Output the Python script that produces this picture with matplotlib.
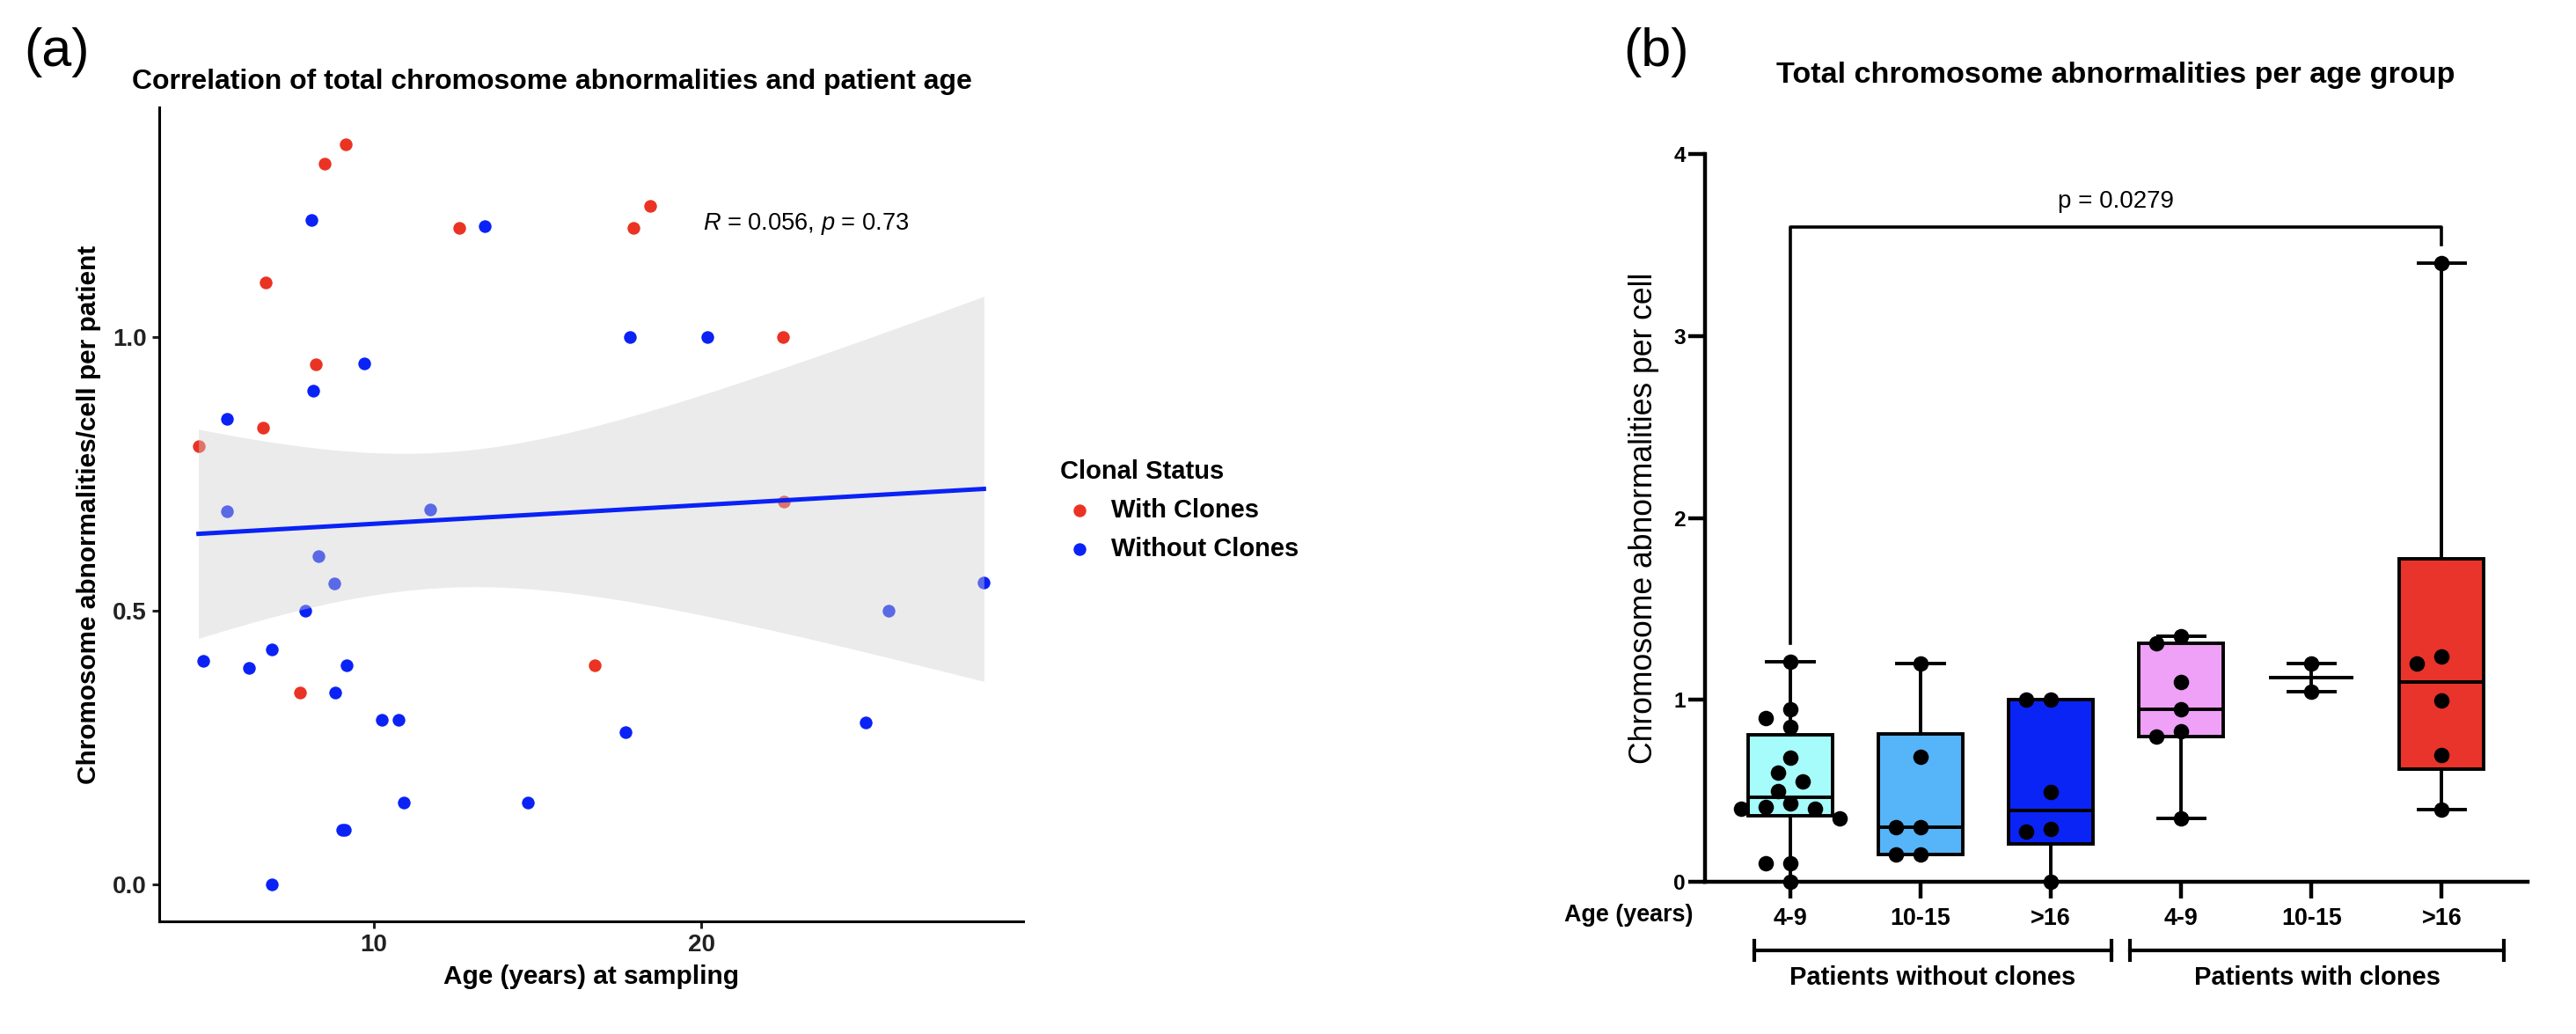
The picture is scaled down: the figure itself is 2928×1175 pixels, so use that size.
import numpy as np
import matplotlib
matplotlib.use('Agg')
from matplotlib import pyplot as plt

# ---- data: panel (a) scatter ----
age_with = [4.64, 6.62, 6.70, 7.75, 8.22, 8.48, 9.14, 12.6, 16.75, 17.93, 18.44, 22.48, 22.50]
abn_with = [0.80, 0.835, 1.10, 0.35, 0.95, 1.317, 1.352, 1.20, 0.40, 1.20, 1.24, 1.00, 0.70]
age_without = [4.78, 5.51, 5.52, 6.18, 6.88, 6.89, 7.90, 8.09, 8.14, 8.31, 8.78, 8.82, 9.02, 9.16,
               9.12, 9.69, 10.23, 10.74, 10.91, 11.71, 13.37, 14.70, 17.69, 17.80, 20.18, 25.02,
               25.70, 28.62]
abn_without = [0.408, 0.851, 0.682, 0.396, 0.429, 0.0, 0.50, 1.213, 0.902, 0.60, 0.55, 0.35, 0.10,
               0.40, 0.10, 0.952, 0.30, 0.30, 0.15, 0.685, 1.202, 0.15, 0.278, 1.0, 1.0, 0.295,
               0.50, 0.552]

# ---- data: panel (b) box plots ----
age_groups = ['4-9', '10-15', '>16', '4-9', '10-15', '>16']
no_clones_4_9 = [1.21, 0.95, 0.90, 0.85, 0.68, 0.60, 0.55, 0.50, 0.43, 0.41, 0.40, 0.40, 0.35, 0.10, 0.10, 0.0]
no_clones_10_15 = [1.20, 0.685, 0.30, 0.30, 0.15, 0.15]
no_clones_16 = [1.0, 1.0, 0.495, 0.288, 0.275, 0.0]
clones_4_9 = [1.35, 1.31, 1.10, 0.946, 0.828, 0.798, 0.347]
clones_10_15 = [1.20, 1.046]
clones_16 = [3.40, 1.236, 1.20, 0.997, 0.696, 0.398]
box_colors = ['#A6FBFB', '#56B4F8', '#0A24F5', '#EFA0F7', 'none', '#E8342A']

RED = '#EA3323'
BLUE = '#0A22F5'

W, H, DPI = 2928, 1175, 200
plt.rcParams['font.family'] = ['Liberation Sans', 'DejaVu Sans']
plt.rcParams['mathtext.fontset'] = 'custom'
plt.rcParams['mathtext.rm'] = 'Liberation Sans'
plt.rcParams['mathtext.it'] = 'Liberation Sans:italic'

fig = plt.figure(figsize=(W / DPI, H / DPI), dpi=DPI)


def fx(x):
    return x / W


def fy(y):
    return 1 - y / H


# ================= panel (a) =================
ax1 = fig.add_axes([fx(181), fy(1047), 982 / W, 925 / H])
s1 = ax1.scatter(age_with, abn_with, s=27, color=RED, lw=0, zorder=2, label='With Clones')
s2 = ax1.scatter(age_without, abn_without, s=27, color=BLUE, lw=0, zorder=2, label='Without Clones')

# linear fit with 95% confidence band (like geom_smooth(method='lm'))
X = np.array(age_with + age_without)
Y = np.array(abn_with + abn_without)
n = len(X)
b1, b0 = np.polyfit(X, Y, 1)
xs = np.linspace(X.min(), X.max(), 100)
yhat = b0 + b1 * xs
resid = Y - (b0 + b1 * X)
sres = np.sqrt(np.sum(resid ** 2) / (n - 2))
sxx = np.sum((X - X.mean()) ** 2)
se = sres * np.sqrt(1 / n + (xs - X.mean()) ** 2 / sxx)
tval = 2.0227  # t(0.975, df=39)
ax1.fill_between(xs, yhat - tval * se, yhat + tval * se, color='#CFCFCF', alpha=0.41, lw=0, zorder=3)
ax1.plot(xs, yhat, color=BLUE, lw=1.8, zorder=4)

xr = X.max() - X.min()
yr = Y.max() - Y.min()
ax1.set_xlim(X.min() - 0.05 * xr, X.max() + 0.05 * xr)
ax1.set_ylim(Y.min() - 0.05 * yr, Y.max() + 0.05 * yr)
for sp in ['top', 'right']:
    ax1.spines[sp].set_visible(False)
for sp in ['left', 'bottom']:
    ax1.spines[sp].set_linewidth(1.1)
ax1.set_xticks([10, 20])
ax1.set_xticklabels(['10', '20'], fontweight='bold')
ax1.set_yticks([0, 0.5, 1.0])
ax1.set_yticklabels(['0.0', '0.5', '1.0'], fontweight='bold')
ax1.tick_params(axis='both', length=3, width=1.1, labelsize=10, pad=2, colors='#222222')
ax1.set_xlabel('Age (years) at sampling', fontsize=10.7, fontweight='bold', va='center')
ax1.xaxis.set_label_coords(0.5, -0.068)
ax1.set_ylabel('Chromosome abnormalities/cell per patient', fontsize=10.7, fontweight='bold', va='center')
ax1.yaxis.set_label_coords(-0.081, 0.5)
ax1.text(20.03, 1.206, r'$\mathit{R}$ = 0.056, $\mathit{p}$ = 0.73', fontsize=9.8, ha='left', va='center')

fig.text(fx(150), fy(101), 'Correlation of total chromosome abnormalities and patient age',
         fontsize=11.5, fontweight='bold', ha='left', va='baseline')
fig.text(fx(27), fy(60), '(a)', fontsize=22, ha='left', va='center')

leg = fig.legend(handles=[s1, s2], labels=['With Clones', 'Without Clones'], title='Clonal Status',
                 loc='upper left', bbox_to_anchor=(fx(1205), fy(522)), frameon=False,
                 prop={'weight': 'bold', 'size': 10.5},
                 title_fontproperties={'weight': 'bold', 'size': 10.5},
                 handlelength=1.5, handletextpad=0.5, labelspacing=0.55, alignment='left',
                 borderpad=0, borderaxespad=0)

# ================= panel (b) =================
ax2 = fig.add_axes([fx(1938), fy(1002), 935 / W, 827 / H])
groups = [no_clones_4_9, no_clones_10_15, no_clones_16, clones_4_9, clones_10_15, clones_16]
pos = np.arange(len(groups))

stats = []
for g in groups:
    v = np.array(g)
    q1, med, q3 = np.percentile(v, [25, 50, 75], method='weibull')
    if len(v) < 3:
        q1 = q3 = med
    stats.append(dict(med=med, q1=q1, q3=q3, whislo=v.min(), whishi=v.max(), fliers=[]))

bp = ax2.bxp(stats, positions=pos, widths=0.65, capwidths=0.36, patch_artist=True, showfliers=False,
             boxprops=dict(lw=1.4, edgecolor='black'),
             whiskerprops=dict(lw=1.4, color='black'),
             capprops=dict(lw=1.4, color='black'),
             medianprops=dict(lw=1.4, color='black'))
for patch, c in zip(bp['boxes'], box_colors):
    patch.set_facecolor(c)


# simple beeswarm offsets in pixel space
def swarm(vals, step_px=14.0, dot_px=20.0, unit_px=148.0, ypx=206.9):
    vals = np.asarray(vals)
    offs = np.zeros(len(vals))
    placed = []
    ks = [0]
    for k in range(1, 8):
        ks += [-k, k]
    for i in np.argsort(-vals):
        y = vals[i] * ypx
        for k in ks:
            x = k * step_px
            if all((x - a) ** 2 + (y - b) ** 2 >= dot_px ** 2 for a, b in placed):
                break
        placed.append((x, y))
        offs[i] = x / unit_px
    return offs


for p, g in zip(pos, groups):
    ax2.scatter(p + swarm(g), g, s=40, color='black', lw=0, zorder=5, clip_on=False)

ax2.set_xlim(-0.655, 5.66)
ax2.set_ylim(0, 4)
for sp in ['top', 'right']:
    ax2.spines[sp].set_visible(False)
for sp in ['left', 'bottom']:
    ax2.spines[sp].set_linewidth(1.6)
ax2.set_yticks([0, 1, 2, 3, 4])
ax2.set_yticklabels(['0', '1', '2', '3', '4'], fontweight='bold')
ax2.tick_params(axis='y', length=7, width=1.6, labelsize=8.8, pad=1)
ax2.set_xticks(pos)
ax2.set_xticklabels(age_groups, fontweight='bold')
ax2.tick_params(axis='x', length=7, width=1.6, labelsize=9.7, pad=3.5)
ax2.set_ylabel('Chromosome abnormalities per cell', fontsize=12.8, va='center')
ax2.yaxis.set_label_coords(-0.0738, 0.5)

# significance bracket
top = 3.6
ax2.plot([0, 0, 5, 5], [max(groups[0]) + 0.1, top, top, max(groups[5]) + 0.1], color='black', lw=1.3)
ax2.text(2.5, 3.74, 'p = 0.0279', fontsize=10, ha='center', va='center')

# group labels under the axis
tr = ax2.get_xaxis_transform()
ax2.text(-0.743, -0.046, 'Age (years)', transform=tr, ha='right', va='center',
         fontsize=9.7, fontweight='bold')
for x0, x1, lab in [(-0.277, 2.466, 'Patients without clones'), (2.608, 5.48, 'Patients with clones')]:
    ax2.plot([x0, x1], [-0.0943, -0.0943], transform=tr, color='black', lw=1.5, clip_on=False)
    for xe in (x0, x1):
        ax2.plot([xe, xe], [-0.0808, -0.1078], transform=tr, color='black', lw=1.5, clip_on=False)
    ax2.text((x0 + x1) / 2, -0.1318, lab, transform=tr, ha='center', va='center',
             fontsize=10.5, fontweight='bold')

fig.text(fx(2405), fy(93.6), 'Total chromosome abnormalities per age group',
         fontsize=12.3, fontweight='bold', ha='center', va='baseline')
fig.text(fx(1845), fy(60), '(b)', fontsize=22, ha='left', va='center')

fig.savefig('out.png', dpi=DPI)
